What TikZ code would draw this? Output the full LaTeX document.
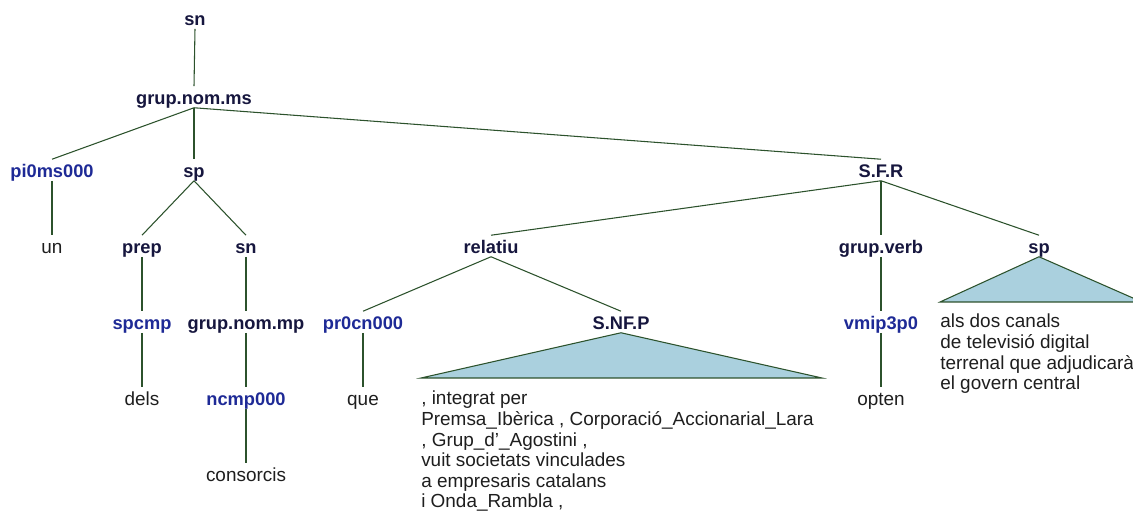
\documentclass[tikz,border=0pt]{standalone}
\usepackage{fontspec}
\usepackage{xcolor}
\usepackage{tikz}
\usetikzlibrary{positioning}

\newfontfamily\treefont{Liberation Sans}
\newcommand\treesize{\fontsize{14.2pt}{15.4pt}\selectfont}
\newcommand\catsize{\fontsize{13.7pt}{15.4pt}\selectfont}

\definecolor{catcol}{RGB}{22,22,62}
\definecolor{tagcol}{RGB}{30,42,150}
\definecolor{wordcol}{RGB}{30,30,30}
\definecolor{edgecol}{RGB}{44,82,44}
\definecolor{trifill}{RGB}{170,208,222}

\tikzset{
  lbl/.style={inner xsep=0pt,inner ysep=2.25pt,text height=11.25pt,text depth=0pt},
  cat/.style={lbl,text=catcol,font=\treefont\catsize\bfseries},
  tag/.style={lbl,text=tagcol,font=\treefont\catsize\bfseries},
  word/.style={lbl,text=wordcol,font=\treefont\treesize},
  words/.style={inner sep=0pt,align=left,text=wordcol,font=\treefont\treesize},
  edge/.style={draw=edgecol,line width=0.8pt},
  tri/.style={draw=edgecol,fill=trifill,line width=0.8pt,line join=miter},
}

\begin{document}
\begin{tikzpicture}[x=0.75pt,y=-0.75pt]
  % arbre sintactic: sn -> grup.nom.ms -> ...
  \clip (0,0) rectangle (1133,513);

  \node[cat] (sn) at (195,18) {sn};
  \node[cat] (gnms) at (194,97) {grup.nom.ms};

  \node[tag] (pi0) at (52,170) {pi0ms000};
  \node[cat] (sp) at (194,170) {sp};
  \node[cat] (sfr) at (881,170) {S.F.R};

  \node[word] (un) at (52,246) {un};
  \node[cat] (prep) at (142,246) {prep};
  \node[cat] (sn2) at (246,246) {sn};
  \node[cat] (rel) at (491,246) {relatiu};
  \node[cat] (gverb) at (881,246) {grup.verb};
  \node[cat] (sp2) at (1039,246) {sp};

  \node[tag] (spcmp) at (142,322) {spcmp};
  \node[cat] (gnmp) at (246,322) {grup.nom.mp};
  \node[tag] (pr0) at (363,322) {pr0cn000};
  \node[cat] (snfp) at (621,322) {S.NF.P};
  \node[tag] (vmip) at (881,322) {vmip3p0};

  \node[word] (dels) at (142,398) {dels};
  \node[tag] (ncmp) at (246,398) {ncmp000};
  \node[word] (que) at (363,398) {que};
  \node[word] (opten) at (881,398) {opten};

  \node[word] (consorcis) at (246,474) {consorcis};

  \draw[edge] (sn.south) -- (gnms.north);
  \draw[edge] (gnms.south) -- (pi0.north);
  \draw[edge] (gnms.south) -- (sp.north);
  \draw[edge] (gnms.south) -- (sfr.north);
  \draw[edge] (pi0.south) -- (un.north);
  \draw[edge] (sp.south) -- (prep.north);
  \draw[edge] (sp.south) -- (sn2.north);
  \draw[edge] (prep.south) -- (spcmp.north);
  \draw[edge] (sn2.south) -- (gnmp.north);
  \draw[edge] (spcmp.south) -- (dels.north);
  \draw[edge] (gnmp.south) -- (ncmp.north);
  \draw[edge] (ncmp.south) -- (consorcis.north);
  \draw[edge] (sfr.south) -- (rel.north);
  \draw[edge] (sfr.south) -- (gverb.north);
  \draw[edge] (sfr.south) -- (sp2.north);
  \draw[edge] (rel.south) -- (pr0.north);
  \draw[edge] (rel.south) -- (snfp.north);
  \draw[edge] (pr0.south) -- (que.north);
  \draw[edge] (gverb.south) -- (vmip.north);
  \draw[edge] (vmip.south) -- (opten.north);

  % triangles de constituents no desplegats
  \coordinate (snfpl) at (421,378);
  \coordinate (snfpr) at (822,378);
  \draw[tri] (snfp.south) -- (snfpl) -- (snfpr) -- cycle;
  \coordinate (sp2l) at (940,302);
  \coordinate (sp2r) at (1142,302);
  \draw[tri] (sp2.south) -- (sp2l) -- (sp2r) -- cycle;

  \node[words,anchor=north west] (snfptxt) at (421,391)
    {, integrat per\\
     Premsa\_Ibèrica , Corporació\_Accionarial\_Lara\\
     , Grup\_d’\_Agostini ,\\
     vuit societats vinculades\\
     a empresaris catalans\\
     i Onda\_Rambla ,};
  \node[words,anchor=north west] (sp2txt) at (940,314)
    {als dos canals\\
     de televisió digital\\
     terrenal que adjudicarà\\
     el govern central};
\end{tikzpicture}
\end{document}
